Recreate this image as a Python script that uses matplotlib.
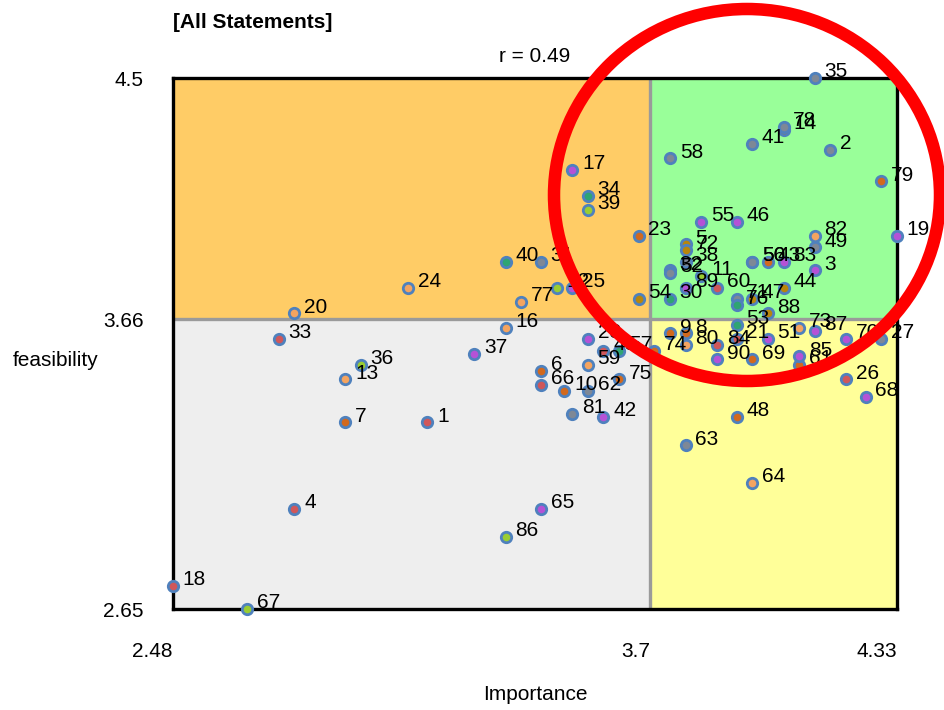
import matplotlib
matplotlib.use("Agg")
import matplotlib.pyplot as plt
from matplotlib.patches import Rectangle, Ellipse

plt.rcParams['font.family'] = ['Liberation Sans', 'DejaVu Sans']

# ---------------- data ----------------
labels = [1, 2, 3, 4, 5, 6, 7, 8, 9, 10, 11, 12, 13, 14, 16, 17, 18, 19, 20, 21,
          23, 24, 25, 26, 27, 28, 30, 31, 32, 33, 34, 35, 36, 37, 38, 39, 40, 41, 42, 43,
          44, 45, 46, 47, 48, 49, 50, 51, 52, 53, 54, 55, 56, 57, 58, 59, 60, 61, 62, 63,
          64, 65, 66, 67, 68, 69, 70, 71, 72, 73, 74, 75, 76, 77, 78, 79, 80, 81, 82, 83,
          84, 85, 86, 87, 88, 89, 90]
importance = [3.13, 4.16, 4.12, 2.79, 3.79, 3.42, 2.92, 3.79, 3.75, 3.48, 3.83, 3.46, 2.92, 4.04, 3.33, 3.50, 2.48, 4.33, 2.79, 3.92,
              3.67, 3.08, 3.50, 4.20, 4.29, 3.54, 3.75, 3.42, 3.75, 2.75, 3.54, 4.12, 2.96, 3.25, 3.79, 3.54, 3.33, 3.96, 3.58, 4.00,
              4.04, 3.58, 3.92, 3.96, 3.92, 4.12, 3.96, 4.00, 3.75, 3.92, 3.67, 3.83, 3.96, 3.62, 3.75, 3.54, 3.87, 4.08, 3.54, 3.79,
              3.96, 3.42, 3.42, 2.67, 4.25, 3.96, 4.20, 3.92, 3.79, 4.08, 3.71, 3.62, 3.92, 3.37, 4.04, 4.29, 3.79, 3.50, 4.12, 4.04,
              3.87, 4.08, 3.33, 4.12, 4.00, 3.79, 3.87]
feasibility = [3.30, 4.25, 3.83, 3.00, 3.92, 3.48, 3.30, 3.61, 3.61, 3.41, 3.81, 3.77, 3.45, 4.32, 3.63, 4.18, 2.73, 3.95, 3.68, 3.59,
               3.95, 3.77, 3.77, 3.45, 3.59, 3.59, 3.73, 3.86, 3.83, 3.59, 4.09, 4.50, 3.50, 3.54, 3.86, 4.04, 3.86, 4.27, 3.32, 3.86,
               3.77, 3.55, 4.00, 3.73, 3.32, 3.91, 3.86, 3.59, 3.82, 3.64, 3.73, 4.00, 3.86, 3.55, 4.22, 3.50, 3.77, 3.50, 3.41, 3.22,
               3.09, 3.00, 3.43, 2.65, 3.39, 3.52, 3.59, 3.73, 3.90, 3.63, 3.55, 3.45, 3.71, 3.72, 4.33, 4.14, 3.57, 3.33, 3.95, 3.86,
               3.57, 3.53, 2.90, 3.62, 3.68, 3.77, 3.52]
cluster = ['red', 'gray', 'purple', 'red', 'brown', 'orange', 'orange', 'orange', 'orange', 'orange',
           'lime', 'lime', 'peach', 'orange', 'peach', 'purple', 'red', 'purple', 'peach', 'red',
           'orange', 'peach', 'purple', 'red', 'gray', 'purple', 'green', 'gray', 'gray', 'red',
           'green', 'gray', 'lime', 'purple', 'gray', 'lime', 'green', 'gray', 'purple', 'orange',
           'brown', 'red', 'purple', 'brown', 'orange', 'gray', 'green', 'purple', 'gray', 'green',
           'brown', 'purple', 'gray', 'green', 'gray', 'peach', 'red', 'orange', 'gray', 'gray',
           'peach', 'purple', 'red', 'lime', 'purple', 'orange', 'purple', 'gray', 'brown', 'peach',
           'orange', 'orange', 'green', 'peach', 'gray', 'orange', 'peach', 'gray', 'peach', 'purple',
           'red', 'purple', 'lime', 'purple', 'brown', 'purple', 'purple']

x_min, x_mid, x_max = 2.48, 3.7, 4.33
y_min, y_mid, y_max = 2.65, 3.66, 4.5
r_value = 0.49

palette = {'red': '#D0575A', 'gray': '#7E8896', 'purple': '#B552D6', 'brown': '#B8860B',
           'orange': '#D2691E', 'lime': '#9ACD32', 'peach': '#F4A460', 'green': '#2FA572'}

# ---------------- figure ----------------
W, H = 944, 710
fig = plt.figure(figsize=(W / 100, H / 100), dpi=100)
ax = fig.add_axes([173 / W, (H - 609) / H, 724 / W, 531 / H])
ax.set_xlim(x_min, x_max)
ax.set_ylim(y_min, y_max)

# quadrants
ax.add_patch(Rectangle((x_min, y_mid), x_mid - x_min, y_max - y_mid, facecolor='#FFCC66', edgecolor='none', zorder=0))
ax.add_patch(Rectangle((x_mid, y_mid), x_max - x_mid, y_max - y_mid, facecolor='#99FF99', edgecolor='none', zorder=0))
ax.add_patch(Rectangle((x_min, y_min), x_mid - x_min, y_mid - y_min, facecolor='#EEEEEE', edgecolor='none', zorder=0))
ax.add_patch(Rectangle((x_mid, y_min), x_max - x_mid, y_mid - y_min, facecolor='#FFFF99', edgecolor='none', zorder=0))
ax.axvline(x_mid, color='#9A9A9A', lw=2.4, zorder=1)
ax.axhline(y_mid, color='#9A9A9A', lw=2.4, zorder=1)

for s in ax.spines.values():
    s.set_linewidth(2.4)
    s.set_color('black')
    s.set_zorder(2)

# points
for lab, xv, yv, c in zip(labels, importance, feasibility, cluster):
    ax.plot(xv, yv, 'o', ms=7.5, mfc=palette[c], mec='#4F81BD', mew=2.0, zorder=3, clip_on=False)
    ax.annotate(str(lab), (xv, yv), xytext=(7, 4.5), textcoords='offset points',
                ha='left', va='center', fontsize=15, color='black', zorder=4, annotation_clip=False)

ax.set_xticks([x_min, x_mid, x_max])
ax.set_xticklabels(['2.48', '3.7', '4.33'], ha='right')
ax.set_yticks([y_min, y_mid, y_max])
ax.set_yticklabels(['2.65', '3.66', '4.5'])
ax.tick_params(axis='both', length=0, labelsize=15)
ax.tick_params(axis='x', pad=24)
ax.tick_params(axis='y', pad=21)

fig.text(173 / W, 1 - 22 / H, '[All Statements]', fontsize=15, fontweight='bold', ha='left', va='center')
fig.text(535 / W, 1 - 56 / H, f'r = {r_value}', fontsize=15, ha='center', va='center')
fig.text(13 / W, 1 - 360 / H, 'feasibility', fontsize=15, ha='left', va='center')
fig.text(535 / W, 1 - 695 / H, 'Importance', fontsize=15, ha='center', va='center')

# red highlight ellipse
fig.add_artist(Ellipse((747 / W, 1 - 195 / H), 386 / W, 372 / H, transform=fig.transFigure,
                       fill=False, edgecolor='#FF0000', lw=9, zorder=10))

fig.savefig('out.png', dpi=100)
